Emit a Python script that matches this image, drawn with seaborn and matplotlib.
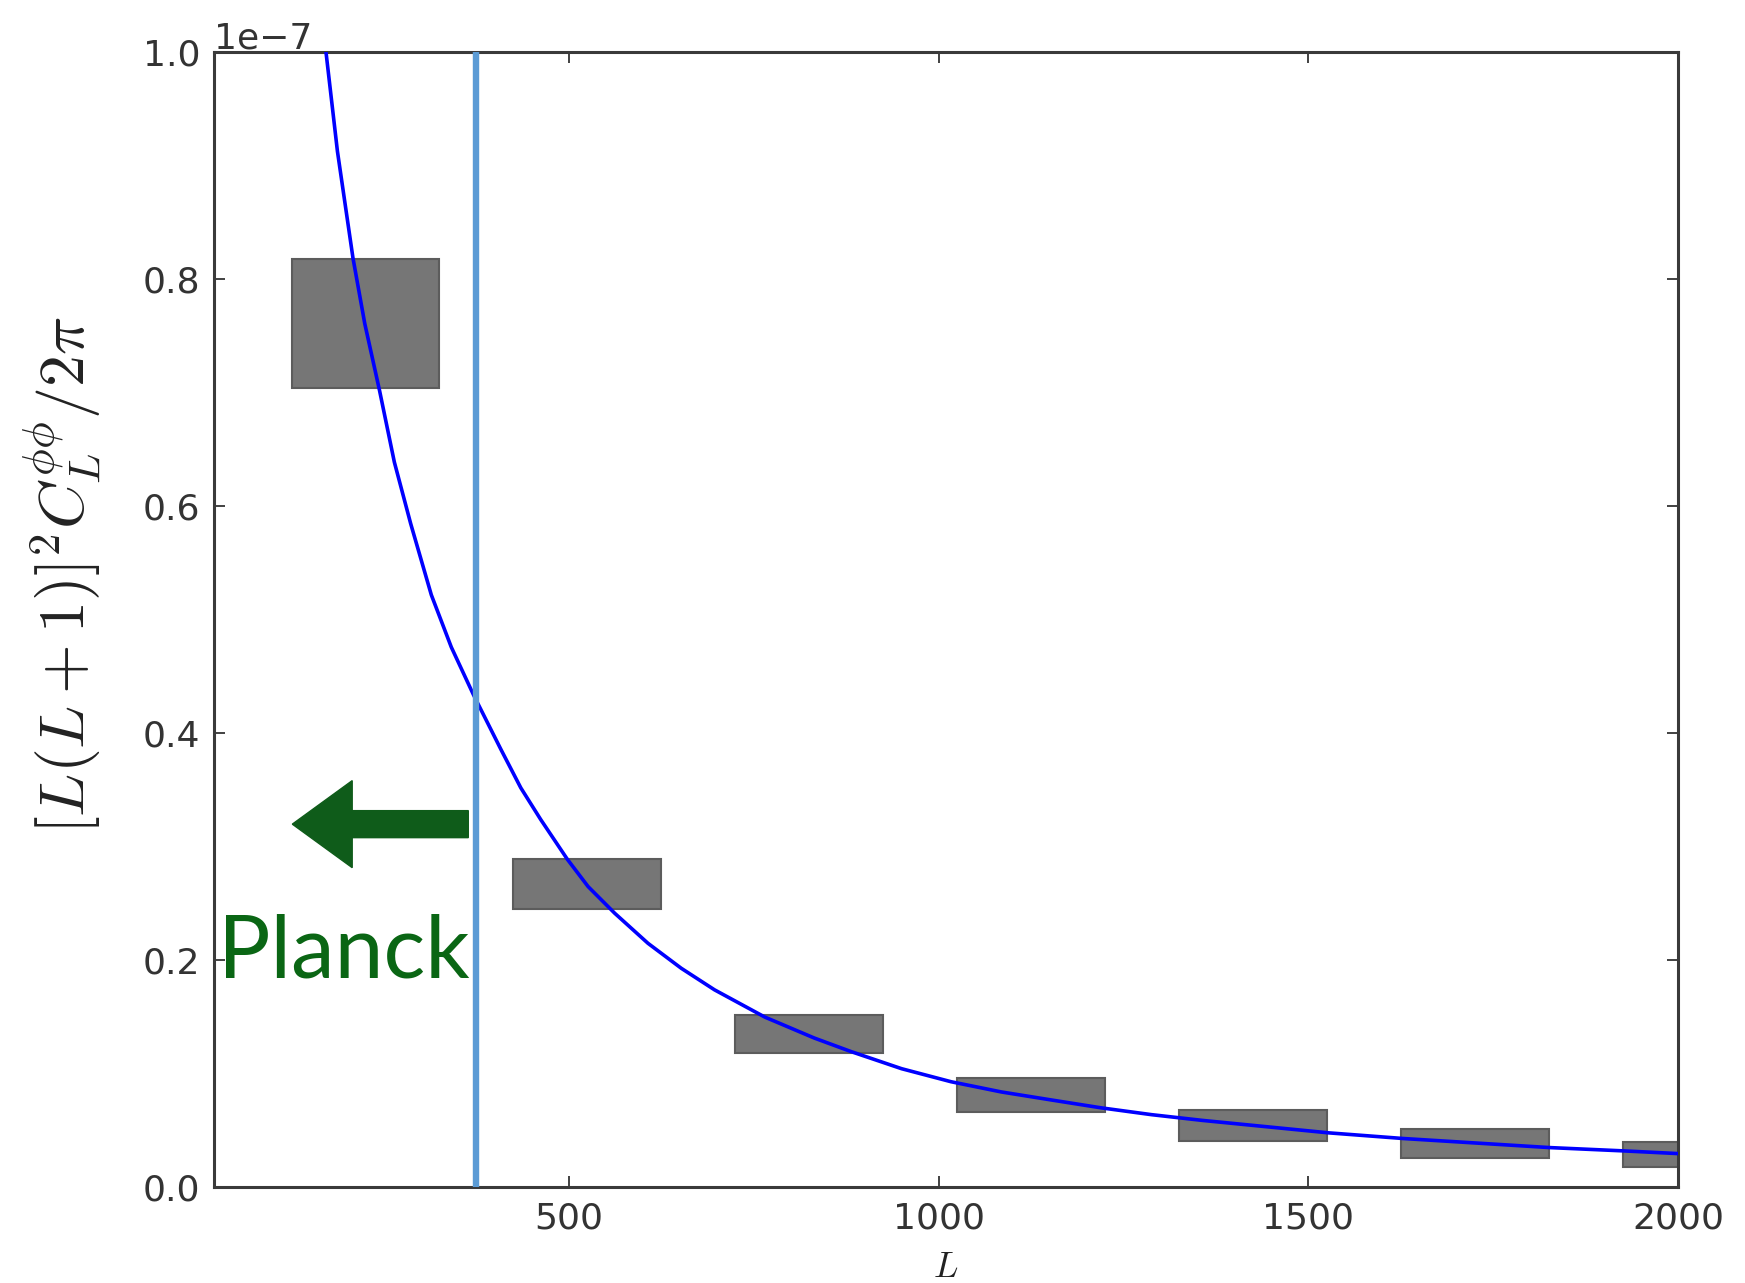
import matplotlib
matplotlib.use("Agg")
import numpy as np
import pandas as pd
import seaborn as sns
import matplotlib.pyplot as plt

# ---------------- data (values in units of 1e-7) ----------------
SCALE = 1e-7
curve_L = [160, 171.6, 187, 208, 224, 244, 264, 286, 314, 341, 371, 408, 435, 462,
           498, 526, 562, 607, 652, 697, 765, 832, 882, 950, 1017, 1085, 1152, 1220,
           1288, 1356, 1527, 1628, 1826, 1929, 2000]
curve_val = [1.07, 1.00, 0.913, 0.819, 0.761, 0.702, 0.639, 0.585, 0.522, 0.476,
             0.434, 0.386, 0.352, 0.324, 0.289, 0.265, 0.2415, 0.215, 0.193, 0.174,
             0.150, 0.1315, 0.1195, 0.1045, 0.093, 0.084, 0.077, 0.070, 0.064, 0.059,
             0.048, 0.043, 0.035, 0.032, 0.0297]

bin_centers = [225, 525, 825, 1125, 1425, 1725, 2025]
bin_width = 200
band_low = [0.704, 0.245, 0.118, 0.066, 0.041, 0.026, 0.018]
band_high = [0.818, 0.289, 0.152, 0.096, 0.068, 0.051, 0.040]

planck_Lmax = 375
arrow_tail_L = 364
arrow_tip_L = 126
arrow_y = 0.32
planck_label = "Planck"

x_ticks = [500, 1000, 1500, 2000]
y_ticks = [0.0, 0.2, 0.4, 0.6, 0.8, 1.0]

# ---------------- style ----------------
sns.set_theme(style="ticks")
plt.rcParams["font.family"] = ["DejaVu Sans"]
plt.rcParams["mathtext.fontset"] = "cm"

fig = plt.figure(figsize=(17.45, 12.83), dpi=100)
ax = fig.add_axes([0.1226, 0.0746, 0.839, 0.8845])

curve_df = pd.DataFrame({"L": curve_L, "val": np.array(curve_val) * SCALE})
bands = pd.DataFrame({"c": bin_centers,
                      "lo": np.array(band_low) * SCALE,
                      "hi": np.array(band_high) * SCALE})

ax.bar(bands["c"], bands["hi"] - bands["lo"], bottom=bands["lo"], width=bin_width,
       color="#767676", edgecolor="#5c5c5c", linewidth=1.5, zorder=2)

sns.lineplot(data=curve_df, x="L", y="val", ax=ax, color="#0000ff", linewidth=2.6,
             sort=False, zorder=3)

ax.axvline(planck_Lmax, color="#5b9bd5", linewidth=4.6, zorder=4)

ax.arrow(arrow_tail_L, arrow_y * SCALE, arrow_tip_L - arrow_tail_L, 0,
         width=0.0238 * SCALE, head_width=0.0767 * SCALE, head_length=81,
         length_includes_head=True, color="#0f5c1a", zorder=5)

ax.text(arrow_tail_L + 2, 0.185 * SCALE, planck_label, color="#0a6614",
        fontsize=63, family=["Lato", "DejaVu Sans"], ha="right", va="baseline", zorder=6)

ax.set_xlim(20, 2000)
ax.set_ylim(0, 1.0 * SCALE)
ax.set_xticks(x_ticks)
ax.set_yticks([v * SCALE for v in y_ticks])

ax.tick_params(direction="in", length=8, width=1.3, top=True, right=True,
               labelsize=26, pad=10, color="#333333", labelcolor="#333333")
ax.yaxis.get_offset_text().set_fontsize(26)
ax.yaxis.get_offset_text().set_color("#333333")

for s in ax.spines.values():
    s.set_linewidth(2.2)
    s.set_color("#3a3a3a")

ax.set_ylabel(r"$[L(L+1)]^2C_L^{\phi\phi}/2\pi$", fontsize=46, color="#222222")
ax.yaxis.label.set_va("center")
ax.yaxis.set_label_coords(-0.104, 0.54)

ax.set_xlabel(r"$L$", fontsize=26, color="#222222")
ax.xaxis.label.set_va("top")
ax.xaxis.set_label_coords(0.5, -0.055)

fig.savefig("out.png", dpi=100)
